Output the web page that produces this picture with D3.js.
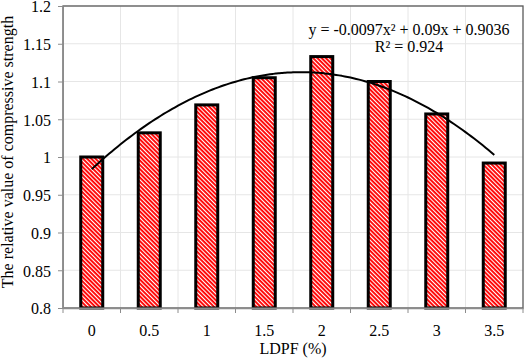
<!DOCTYPE html>
<html>
<head>
<meta charset="utf-8">
<script src="https://cdn.jsdelivr.net/npm/d3@7"></script>
<style>
  body { margin: 0; background: #fff; }
  svg { display: block; }
  svg text { font-family: "Times New Roman", "Liberation Serif", "DejaVu Serif", serif !important; fill: #000; }
</style>
</head>
<body>
<svg></svg>
<script>
(function (d3) {
  'use strict';

  var categories = ["0", "0.5", "1", "1.5", "2", "2.5", "3", "3.5"];
  var values = [1.0, 1.032, 1.069, 1.105, 1.133, 1.1, 1.057, 0.992];
  var yTicks = [0.8, 0.85, 0.9, 0.95, 1, 1.05, 1.1, 1.15, 1.2];
  var trendCoef = [-0.0097, 0.09, 0.9036];   // a x^2 + b x + c, x = 1..8
  var eqLabel = "y = -0.0097x² + 0.09x + 0.9036";
  var r2Label = "R² = 0.924";

  var width = 525, height = 358,
      margin = {top: 6, right: 2, bottom: 50, left: 63},
      svg = d3.select("svg").attr("width", width).attr("height", height),
      g = svg.append("g").attr("transform", `translate(${margin.left},${margin.top})`),
      w = width - margin.left - margin.right,
      h = height - margin.top - margin.bottom;

  var x = d3.scaleBand().domain(categories).range([0, w]).paddingInner(0).paddingOuter(0);
  var y = d3.scaleLinear().domain([0.8, 1.2]).range([h, 0]);

  // hatch pattern
  var defs = svg.append("defs");
  var pat = defs.append("pattern")
      .attr("id", "hatch")
      .attr("patternUnits", "userSpaceOnUse")
      .attr("width", 3).attr("height", 3)
      .attr("patternTransform", "rotate(-45)");
  pat.append("rect").attr("width", 3).attr("height", 3).attr("fill", "#ff0000");
  pat.append("rect").attr("x", 0).attr("width", 1.1).attr("height", 3).attr("fill", "#fff");

  // grid
  g.append("g").selectAll("line")
    .data(yTicks)
    .enter().append("line")
      .attr("x1", 0).attr("x2", w)
      .attr("y1", d => y(d)).attr("y2", d => y(d))
      .attr("stroke", "#e6e6e6");
  g.append("g").selectAll("line")
    .data(categories.slice(1))
    .enter().append("line")
      .attr("x1", d => x(d)).attr("x2", d => x(d))
      .attr("y1", 0).attr("y2", h)
      .attr("stroke", "#e6e6e6");

  // bars
  var bw = 22;
  g.append("g").selectAll("rect")
    .data(values)
    .enter().append("rect")
      .attr("x", (d, i) => x(categories[i]) + x.bandwidth() / 2 - bw / 2)
      .attr("y", d => y(d))
      .attr("width", bw)
      .attr("height", d => h - y(d))
      .attr("fill", "url(#hatch)")
      .attr("stroke", "#000")
      .attr("stroke-width", 3);

  // frame
  g.append("rect")
    .attr("width", w).attr("height", h)
    .attr("fill", "none")
    .attr("stroke", "#595959")
    .attr("stroke-width", 1.3);

  // axes
  var yAxis = g.append("g")
    .call(d3.axisLeft(y).tickValues(yTicks).tickSize(5).tickPadding(7).tickFormat(d => String(+d.toFixed(2))));
  yAxis.attr("font-family", null);
  yAxis.select(".domain").attr("stroke", "#8c8c8c");
  yAxis.selectAll(".tick line").attr("stroke", "#8c8c8c");
  yAxis.selectAll("text").style("font-size", "16px").attr("dy", "0.36em");

  var xAxis = g.append("g")
    .attr("transform", `translate(0,${h})`)
    .call(d3.axisBottom(x).tickSize(0).tickPadding(17));
  xAxis.attr("font-family", null);
  xAxis.select(".domain").attr("stroke", "#8c8c8c").attr("stroke-width", 1.3);
  xAxis.selectAll("text").style("font-size", "16px");
  xAxis.selectAll(".sep")
    .data(d3.range(categories.length + 1))
    .enter().append("line")
      .attr("x1", i => i * x.bandwidth()).attr("x2", i => i * x.bandwidth())
      .attr("y1", 0).attr("y2", 5)
      .attr("stroke", "#8c8c8c");

  // trend line
  var poly = t => trendCoef[0] * t * t + trendCoef[1] * t + trendCoef[2];
  var ts = d3.range(1, 8.001, 0.05);
  var line = d3.line()
    .x(t => x(categories[0]) + x.bandwidth() / 2 + (t - 1) * x.bandwidth())
    .y(t => y(poly(t)))
    .curve(d3.curveMonotoneX);
  g.append("path")
    .datum(ts)
    .attr("d", line)
    .attr("fill", "none")
    .attr("stroke", "#000")
    .attr("stroke-width", 2);

  // equation
  g.append("text")
    .attr("x", 409 - margin.left).attr("y", 35 - margin.top)
    .attr("text-anchor", "middle")
    .style("font-size", "16px")
    .text(eqLabel);
  g.append("text")
    .attr("x", 409 - margin.left).attr("y", 52 - margin.top)
    .attr("text-anchor", "middle")
    .style("font-size", "16px")
    .text(r2Label);

  // axis titles
  svg.append("text")
    .attr("transform", `translate(12.5,152) rotate(-90)`)
    .attr("text-anchor", "middle")
    .style("font-size", "16px")
    .text("The relative value of compressive strength");
  svg.append("text")
    .attr("x", margin.left + w / 2).attr("y", 354)
    .attr("text-anchor", "middle")
    .style("font-size", "16px")
    .text("LDPF (%)");

}(d3));
</script>
</body>
</html>
